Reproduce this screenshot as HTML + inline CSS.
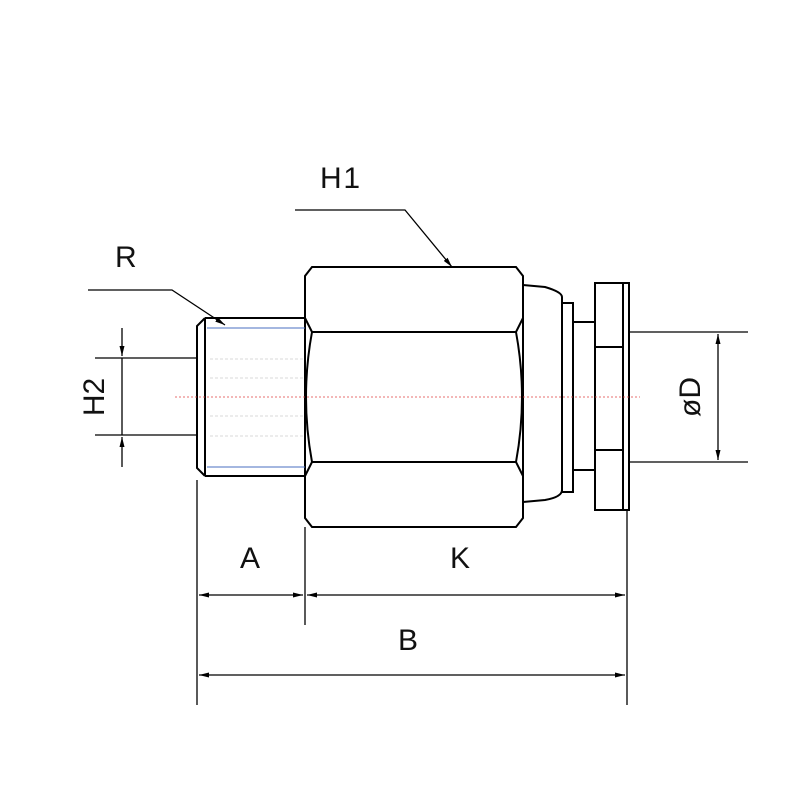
<!DOCTYPE html>
<html><head><style>body{margin:0;background:#fff}svg{display:block}</style></head><body>
<svg width="800" height="800" viewBox="0 0 800 800" xmlns="http://www.w3.org/2000/svg" font-family="Liberation Sans, sans-serif">
<defs>
<marker id="a" markerWidth="10" markerHeight="6" refX="10" refY="3" orient="auto" markerUnits="userSpaceOnUse"><path d="M0,0.5 L10,3 L0,5.5z" fill="#000"/></marker>
</defs>
<g stroke="#000" stroke-width="2" fill="none">
<path d="M205,318 L305,318 M205,476 L305,476 M205,318 L205,476 M205,318 L197,326 L197,468 L205,476"/>
<path d="M312,267 L516,267 L523,276 L523,518 L516,527 L312,527 L305,518 L305,276 Z"/>
<path d="M305,318 L312,332 L516,332 L523,318 M305,476 L312,462 L516,462 L523,476 M312,332 Q300,397 312,462 M516,332 Q528,397 516,462"/>
<path d="M523,285 L545,287 Q562,292 562,297 L562,490 Q562,497 545,500 L523,502"/>
<rect x="562" y="303" width="11" height="189"/>
<path d="M573,322 L595,322 M573,470 L595,470"/>
<rect x="595" y="283" width="34" height="227"/>
<path d="M623,283 L623,510 M595,347 L623,347 M595,450 L623,450"/>
</g>
<g stroke="#000" stroke-width="1.3" fill="none">
<path d="M629,332 L748,332 M629,462 L748,462"/>
<path d="M718,365 L718,334" marker-end="url(#a)"/><path d="M718,430 L718,460" marker-end="url(#a)"/>
<path d="M718,365 L718,430"/>
<path d="M95,358 L197,358 M95,435 L197,435"/>
<path d="M122,328 L122,356" marker-end="url(#a)"/><path d="M122,467 L122,437" marker-end="url(#a)"/>
<path d="M122,358 L122,435"/>
<path d="M197,480 L197,705 M305,527 L305,625 M627,510 L627,705"/>
<path d="M250,595 L199,595" marker-end="url(#a)"/><path d="M250,595 L303,595" marker-end="url(#a)"/>
<path d="M460,595 L307,595" marker-end="url(#a)"/><path d="M460,595 L625,595" marker-end="url(#a)"/>
<path d="M410,675 L199,675" marker-end="url(#a)"/><path d="M410,675 L625,675" marker-end="url(#a)"/>
<path d="M295,210 L405,210 L452,267" marker-end="url(#a)"/>
<path d="M88,290 L172,290 L225,325" marker-end="url(#a)"/>
</g>
<path d="M207,328 L305,328 M207,467 L305,467" stroke="#4a6fc0" stroke-width="1"/>
<path d="M210,359 L305,359 M210,378 L305,378 M210,416 L305,416 M210,436 L305,436" stroke="#ccc" stroke-width="0.8" stroke-dasharray="3,2"/>
<path d="M175,397 L640,397" stroke="#e04040" stroke-width="0.8" stroke-dasharray="2,2"/>
<g font-size="30" fill="#111">
<text x="320" y="188" textLength="40">H1</text>
<text x="115" y="267">R</text>
<text x="240" y="568">A</text>
<text x="450" y="568">K</text>
<text x="398" y="650">B</text>
<text transform="translate(104,397) rotate(-90)" text-anchor="middle">H2</text>
<text transform="translate(700,397) rotate(-90)" text-anchor="middle">øD</text>
</g>
</svg>
</body></html>
